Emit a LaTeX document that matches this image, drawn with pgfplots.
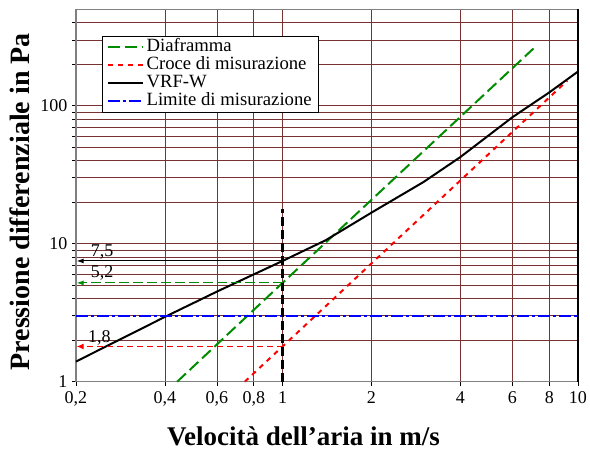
\documentclass[border=0pt]{standalone}
\usepackage{fontspec}
\setmainfont{Liberation Serif}
\usepackage{pgfplots}
\pgfplotsset{compat=1.18}
\usetikzlibrary{arrows.meta}
\definecolor{gridred}{RGB}{120,50,50}
\definecolor{dgreen}{RGB}{0,140,0}
\begin{document}
\begin{tikzpicture}
\path[use as bounding box] (-76pt,-68.3pt) rectangle (514pt,381.7pt);
\begin{axis}[
  at={(0pt,0pt)}, anchor=south west,
  scale only axis, width=502pt, height=372.4pt,
  xmode=log, ymode=log,
  xmin=0.2, xmax=10, ymin=1, ymax=500,
  clip=false,
  xtick={0.2,0.4,0.6,0.8,1,2,4,6,8,10},
  xticklabels={{0,2},{0,4},{0,6},{0,8},1,2,4,6,8,10},
  xminorticks=false,
  ytick={1,10,100},
  yticklabels={1,10,100},
  minor ytick={2,3,4,5,6,7,8,9,20,30,40,50,60,70,80,90,200,300,400},
  xtick pos=bottom, ytick pos=left,
  xmajorgrids, ymajorgrids, yminorgrids,
  major grid style={gridred, line width=0.8pt},
  minor grid style={gridred, line width=0.8pt},
  tick align=outside,
  major tick length=4pt, minor tick length=4pt,
  every tick/.style={black, line width=0.8pt},
  axis line style={gray, line width=1.5pt},
  tick label style={font=\fontsize{18}{20}\selectfont},
  xticklabel style={yshift=-2pt},
  yticklabel style={xshift=-1pt},
  xlabel={\textbf{Velocità dell’aria in m/s}},
  xlabel style={at={(axis description cs:0.453,0)}, anchor=base, yshift=-64pt, font=\fontsize{27}{30}\selectfont},
  ylabel={\textbf{Pressione differenziale in Pa}},
  ylabel style={at={(axis description cs:-0.0926,0.483)}, anchor=base, font=\fontsize{28}{30}\selectfont},
  legend cell align=left,
  legend style={at={(0.0512,0.9283)}, anchor=north west, draw=black, line width=0.8pt, fill=white,
    font=\fontsize{18.7}{20}\selectfont, inner xsep=5pt, inner ysep=2pt, row sep=0pt,
    nodes={inner ysep=1.2pt, text height=12pt, text depth=3.5pt}},
  legend image code/.code={\draw[#1] (0pt,0pt) -- (35pt,0pt);},
]
\addplot[dgreen, line width=2pt, dash pattern=on 12pt off 5pt] coordinates {(0.44,1.0) (1,5.2) (7.07,260)};
\addlegendentry{Diaframma}
\addplot[red, line width=2pt, dash pattern=on 5pt off 5pt] coordinates {(0.745,1.0) (1,1.8) (9.2,152)};
\addlegendentry{Croce di misurazione}
\addplot[black, line width=2pt] coordinates {(0.2,1.4) (0.4,2.95) (0.6,4.5) (0.8,6.0) (1,7.5) (1.4,10.6) (2,16.8) (3,28) (4,42.5) (6,82.6) (8,125) (10,177)};
\addlegendentry{VRF-W}
\addplot[blue, line width=2.5pt, dash pattern=on 12pt off 3pt on 3pt off 3pt] coordinates {(0.2,3) (10,3)};
\addlegendentry{Limite di misurazione}
% annotations
\addplot[forget plot, black, line width=2.5pt, dash pattern=on 9pt off 4pt] coordinates {(1,1) (1,18)};
\addplot[forget plot, black, line width=1pt, -{Latex[length=7pt,width=5pt]}] coordinates {(1,7.5) (0.201,7.5)};
\addplot[forget plot, dgreen, line width=1pt, dash pattern=on 10pt off 4pt, -{Latex[length=7pt,width=5pt]}] coordinates {(1,5.2) (0.201,5.2)};
\addplot[forget plot, red, line width=1pt, dash pattern=on 6pt off 4pt, -{Latex[length=7pt,width=6pt]}] coordinates {(1,1.8) (0.201,1.8)};
\addplot[forget plot, black, line width=1.5pt] coordinates {(10,1) (10,500)};
\node[anchor=base, font=\fontsize{18}{20}\selectfont] at (axis cs:0.245,8.08) {7,5};
\node[anchor=base, font=\fontsize{18}{20}\selectfont] at (axis cs:0.245,5.65) {5,2};
\node[anchor=base, font=\fontsize{18}{20}\selectfont] at (axis cs:0.24,1.92) {1,8};
\end{axis}
\end{tikzpicture}
\end{document}
